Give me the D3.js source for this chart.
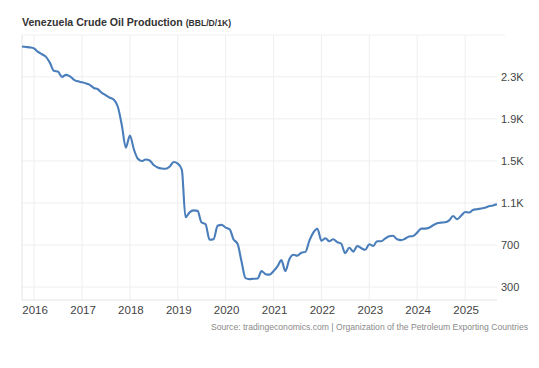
<!DOCTYPE html>
<html><head><meta charset="utf-8">
<script src="https://cdn.jsdelivr.net/npm/d3@7"></script>
<style>body{margin:0;background:#fff;}svg{display:block;font-family:"Liberation Sans",Arial,sans-serif;}</style>
</head><body><svg id="c" width="539" height="368"></svg>
<script>
const startMonth = "2015-10";
const production = [2589,2584,2580,
2570,2537,2515,2490,2433,2357,2350,2300,2319,2305,2272,2257,
2248,2237,2224,2194,2182,2148,2125,2101,2082,2016,1836,1627,
1741,1608,1523,1499,1513,1504,1461,1438,1428,1425,1447,1490,
1475,1418,964,1011,1030,1025,916,897,750,755,883,892,
866,850,755,712,546,385,376,379,381,452,423,418,
452,499,556,452,565,608,599,627,635,741,821,855,
741,764,736,755,727,712,622,674,637,691,670,655,
708,691,736,736,760,783,788,755,747,760,781,786,
818,856,856,864,888,907,913,916,935,976,945,978,
1014,1009,1033,1041,1047,1055,1068,1077,1087];
const yTicks = [300,700,1100,1500,1900,2300];
const yTickLabels = ["300","700","1.1K","1.5K","1.9K","2.3K"];
const xTickYears = [2016,2017,2018,2019,2020,2021,2022,2023,2024,2025];
const title = "Venezuela Crude Oil Production";
const unit = "(BBL/D/1K)";
const source = "Source: tradingeconomics.com | Organization of the Petroleum Exporting Countries";

const t0 = d3.timeParse("%Y-%m")(startMonth);
const data = production.map((v,i)=>({date:d3.timeMonth.offset(t0,i), value:v}));

const svg = d3.select("#c");
const L=22,R=497,T=35,B=300;
const x = d3.scaleTime().domain([data[0].date, data[data.length-1].date]).range([L,R]);
const y = d3.scaleLinear().domain([177,2698]).range([B,T]);

const g = svg.append("g");
g.selectAll(".hg").data(yTicks).join("line")
  .attr("x1",L).attr("x2",R).attr("y1",d=>y(d)).attr("y2",d=>y(d))
  .attr("stroke","#eeeeee").attr("stroke-width",1);
g.append("line").attr("x1",L).attr("x2",R+8).attr("y1",T).attr("y2",T).attr("stroke","#f0f0f0");
const yearDates = xTickYears.map(yr=>new Date(yr,0,1));
g.selectAll(".vg").data(yearDates).join("line")
  .attr("x1",d=>x(d)).attr("x2",d=>x(d)).attr("y1",T).attr("y2",B)
  .attr("stroke","#eeeeee").attr("stroke-width",1);
g.append("line").attr("x1",L).attr("x2",L).attr("y1",T).attr("y2",B).attr("stroke","#e4e4e4");
g.append("line").attr("x1",L).attr("x2",R).attr("y1",B).attr("y2",B).attr("stroke","#e4e4e4");

g.selectAll(".yl").data(yTicks).join("text")
  .attr("x",R+4).attr("y",d=>y(d)).attr("dy","0.35em")
  .attr("font-size",11).attr("fill","#444")
  .text((d,i)=>yTickLabels[i]);
g.selectAll(".xl").data(yearDates).join("text")
  .attr("x",d=>x(d)+1).attr("y",314).attr("text-anchor","middle")
  .attr("font-size",11.5).attr("fill","#444")
  .text(d=>d.getFullYear());

svg.append("path").datum(data)
  .attr("d", d3.line().x(d=>x(d.date)).y(d=>y(d.value)).curve(d3.curveMonotoneX))
  .attr("fill","none").attr("stroke","#4a7ebb").attr("stroke-width",2.1).attr("stroke-linejoin","round");

const tt = svg.append("text").attr("x",22).attr("y",26).attr("fill","#333").attr("font-weight","bold");
tt.append("tspan").attr("font-size",10.6).text(title+" ");
tt.append("tspan").attr("font-size",8.6).text(unit);

svg.append("text").attr("x",528).attr("y",330).attr("text-anchor","end")
  .attr("font-size",8.6).attr("fill","#8a8a8a").text(source);
</script></body></html>
